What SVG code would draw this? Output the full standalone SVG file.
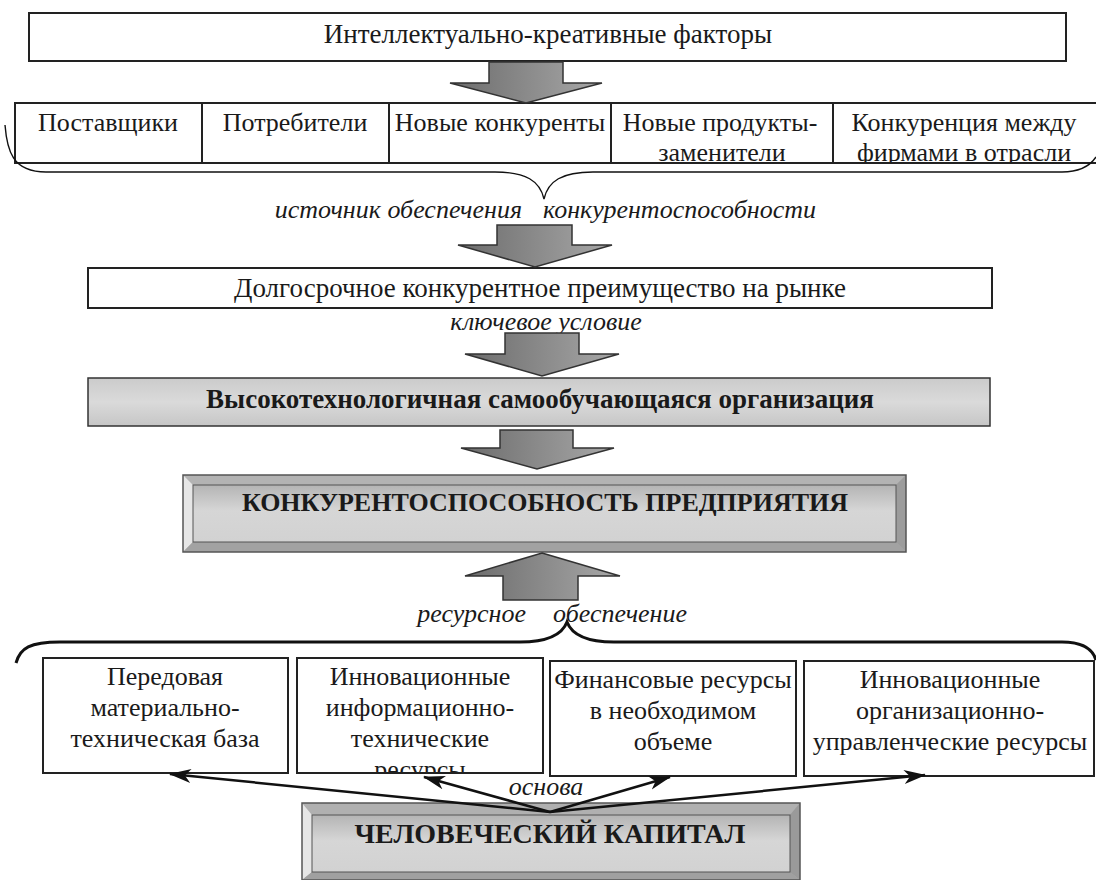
<svg xmlns="http://www.w3.org/2000/svg" width="1096" height="880" viewBox="0 0 1096 880">
<defs>
<style>
.t{font-family:"Liberation Serif","Times New Roman",serif;font-size:26px;fill:#1a1a1a;text-anchor:middle}
.i{font-family:"Liberation Serif","Times New Roman",serif;font-size:26px;font-style:italic;fill:#1a1a1a}
.b{font-family:"Liberation Serif","Times New Roman",serif;font-weight:bold;fill:#1a1a1a;text-anchor:middle}
.box{fill:#fff;stroke:#222;stroke-width:2}
.frame{fill:none;stroke:#222;stroke-width:2}
.blk{fill:url(#ag);stroke:#333;stroke-width:1.5;stroke-linejoin:miter}
.brace{fill:none;stroke:#111}
.ln{fill:none;stroke:#111;stroke-width:2.5;marker-end:url(#ah)}
</style>
<linearGradient id="ag" x1="0" y1="0" x2="1" y2="0">
<stop offset="0" stop-color="#6c6c6c"/>
<stop offset="1" stop-color="#a8a8a8"/>
</linearGradient>
<linearGradient id="gv" x1="0" y1="0" x2="0" y2="1">
<stop offset="0" stop-color="#cbcbcb"/>
<stop offset="0.5" stop-color="#dadada"/>
<stop offset="1" stop-color="#c6c6c6"/>
</linearGradient>
<linearGradient id="face" x1="0" y1="0" x2="0" y2="1">
<stop offset="0" stop-color="#b4b4b4"/>
<stop offset="0.45" stop-color="#d6d6d6"/>
<stop offset="1" stop-color="#d2d2d2"/>
</linearGradient>
<marker id="ah" markerWidth="24" markerHeight="16" refX="21" refY="8" orient="auto" markerUnits="userSpaceOnUse">
<path d="M0,1 L22,8 L0,15 L6,8 Z" fill="#111"/>
</marker>
<clipPath id="row1"><rect x="15" y="103" width="1081" height="60"/></clipPath>
<clipPath id="boxB"><rect x="297" y="658" width="246" height="115"/></clipPath>
</defs>
<rect width="1096" height="880" fill="#fff"/>

<g id="factors">
<rect class="box" x="29" y="13" width="1037" height="48"/>
<text class="t" x="548" y="43" font-size="27" style="font-size:27px">Интеллектуально-креативные факторы</text>
</g>

<g id="forces">
<rect class="box" x="15" y="103" width="1090" height="60"/>
<g clip-path="url(#row1)">
<text class="t" x="108" y="131">Поставщики</text>
<text class="t" x="295" y="131">Потребители</text>
<text class="t" x="500" y="131">Новые конкуренты</text>
<text class="t" x="720" y="131">Новые продукты-</text>
<text class="t" x="722" y="161">заменители</text>
<text class="t" x="964" y="131">Конкуренция между</text>
<text class="t" x="964" y="161">фирмами в отрасли</text>
</g>
<rect class="frame" x="15" y="103" width="1090" height="60"/>
<line x1="202" y1="103" x2="202" y2="163" stroke="#222" stroke-width="2"/>
<line x1="389" y1="103" x2="389" y2="163" stroke="#222" stroke-width="2"/>
<line x1="611" y1="103" x2="611" y2="163" stroke="#222" stroke-width="2"/>
<line x1="833" y1="103" x2="833" y2="163" stroke="#222" stroke-width="2"/>
</g>

<g id="braces">
<path class="brace" stroke-width="1.4" d="M5,125 C7,150 12,172 46,172 L495,172 C526,172 540,181 544,199 C548,181 562,172 593,172 L1062,172 C1080,172 1090,166 1096,157"/>
<path class="brace" stroke-width="3" d="M16,663 C20,648 30,642 60,642 L520,642 C548,642 562,635 567,622 C572,635 586,642 614,642 L1062,642 C1085,642 1093,650 1096,660"/>
</g>

<g id="label-source">
<text class="i" y="218"><tspan x="522" text-anchor="end">источник обеспечения</tspan><tspan x="543">конкурентоспособности</tspan></text>
</g>

<g id="advantage">
<rect class="box" x="88" y="268" width="904" height="40"/>
<text class="t" x="540" y="297" style="font-size:27px">Долгосрочное конкурентное преимущество на рынке</text>
</g>

<g id="label-key">
<text class="i" x="546" y="330" text-anchor="middle">ключевое условие</text>
</g>

<g id="hightech">
<rect x="88" y="378" width="902" height="48" fill="url(#gv)" stroke="#333" stroke-width="1.5"/>
<text class="b" x="540" y="408" font-size="27">Высокотехнологичная самообучающаяся организация</text>
</g>

<g id="competitiveness">
<rect x="183" y="475" width="723" height="77" fill="#aaa"/>
<polygon points="183,475 906,475 896,485 193,485" fill="#b3b3b3"/>
<polygon points="183,475 193,485 193,542 183,552" fill="#e6e6e6"/>
<polygon points="906,475 906,552 896,542 896,485" fill="#9c9c9c"/>
<polygon points="183,552 193,542 896,542 906,552" fill="#a2a2a2"/>
<rect x="193" y="485" width="703" height="57" fill="url(#face)" stroke="#555" stroke-width="1"/>
<rect x="183" y="475" width="723" height="77" fill="none" stroke="#555" stroke-width="1.5"/>
<text class="b" x="545" y="511" font-size="26">КОНКУРЕНТОСПОСОБНОСТЬ ПРЕДПРИЯТИЯ</text>
</g>

<g id="label-resource">
<text class="i" y="622"><tspan x="526" text-anchor="end">ресурсное</tspan><tspan x="553">обеспечение</tspan></text>
</g>

<g id="res-material">
<rect class="box" x="43" y="658" width="245" height="115"/>
<text class="t" x="165" y="685">Передовая</text>
<text class="t" x="165" y="716">материально-</text>
<text class="t" x="165" y="747">техническая база</text>
</g>

<g id="res-info">
<rect class="box" x="297" y="658" width="246" height="115"/>
<g clip-path="url(#boxB)">
<text class="t" x="420" y="685">Инновационные</text>
<text class="t" x="420" y="716">информационно-</text>
<text class="t" x="420" y="747">технические</text>
<text class="t" x="420" y="778">ресурсы</text>
</g>
<rect class="frame" x="297" y="658" width="246" height="115"/>
</g>

<g id="res-finance">
<rect class="box" x="550" y="661" width="246" height="115"/>
<text class="t" x="673" y="688">Финансовые ресурсы</text>
<text class="t" x="673" y="719">в необходимом</text>
<text class="t" x="673" y="750">объеме</text>
</g>

<g id="res-org">
<rect class="box" x="804" y="661" width="290" height="115"/>
<text class="t" x="950" y="688">Инновационные</text>
<text class="t" x="950" y="719">организационно-</text>
<text class="t" x="950" y="750">управленческие ресурсы</text>
</g>

<g id="human-capital">
<rect x="302" y="803" width="498" height="77" fill="#aaa"/>
<polygon points="302,803 800,803 790,815 312,815" fill="#b0b0b0"/>
<polygon points="302,803 312,815 312,872 302,880" fill="#e6e6e6"/>
<polygon points="800,803 800,880 790,872 790,815" fill="#9a9a9a"/>
<polygon points="302,880 312,872 790,872 800,880" fill="#a0a0a0"/>
<rect x="312" y="815" width="478" height="57" fill="url(#face)" stroke="#555" stroke-width="1"/>
<rect x="302" y="803" width="498" height="77" fill="none" stroke="#555" stroke-width="1.5"/>
<text class="b" x="550" y="843" font-size="28">ЧЕЛОВЕЧЕСКИЙ КАПИТАЛ</text>
</g>

<g id="label-basis">
<text class="i" x="546" y="795" text-anchor="middle">основа</text>
</g>

<g id="connectors">
<polygon class="blk" points="489,62 563,62 563,83 602,83 526,103 450,83 489,83"/>
<polygon class="blk" points="497,225 572,225 572,245 612,245 535,267 458,245 497,245"/>
<polygon class="blk" points="505,333 579,333 579,354 619,354 542,376 465,354 505,354"/>
<polygon class="blk" points="500,430 573,430 573,448 614,448 537,469 461,448 500,448"/>
<polygon class="blk" points="542,553 620,576 578,576 578,600 503,600 503,576 465,576"/>
<line class="ln" x1="550" y1="812" x2="170" y2="774"/>
<line class="ln" x1="550" y1="812" x2="424" y2="777"/>
<line class="ln" x1="550" y1="812" x2="670" y2="777"/>
<line class="ln" x1="550" y1="812" x2="925" y2="775"/>
</g>
</svg>
